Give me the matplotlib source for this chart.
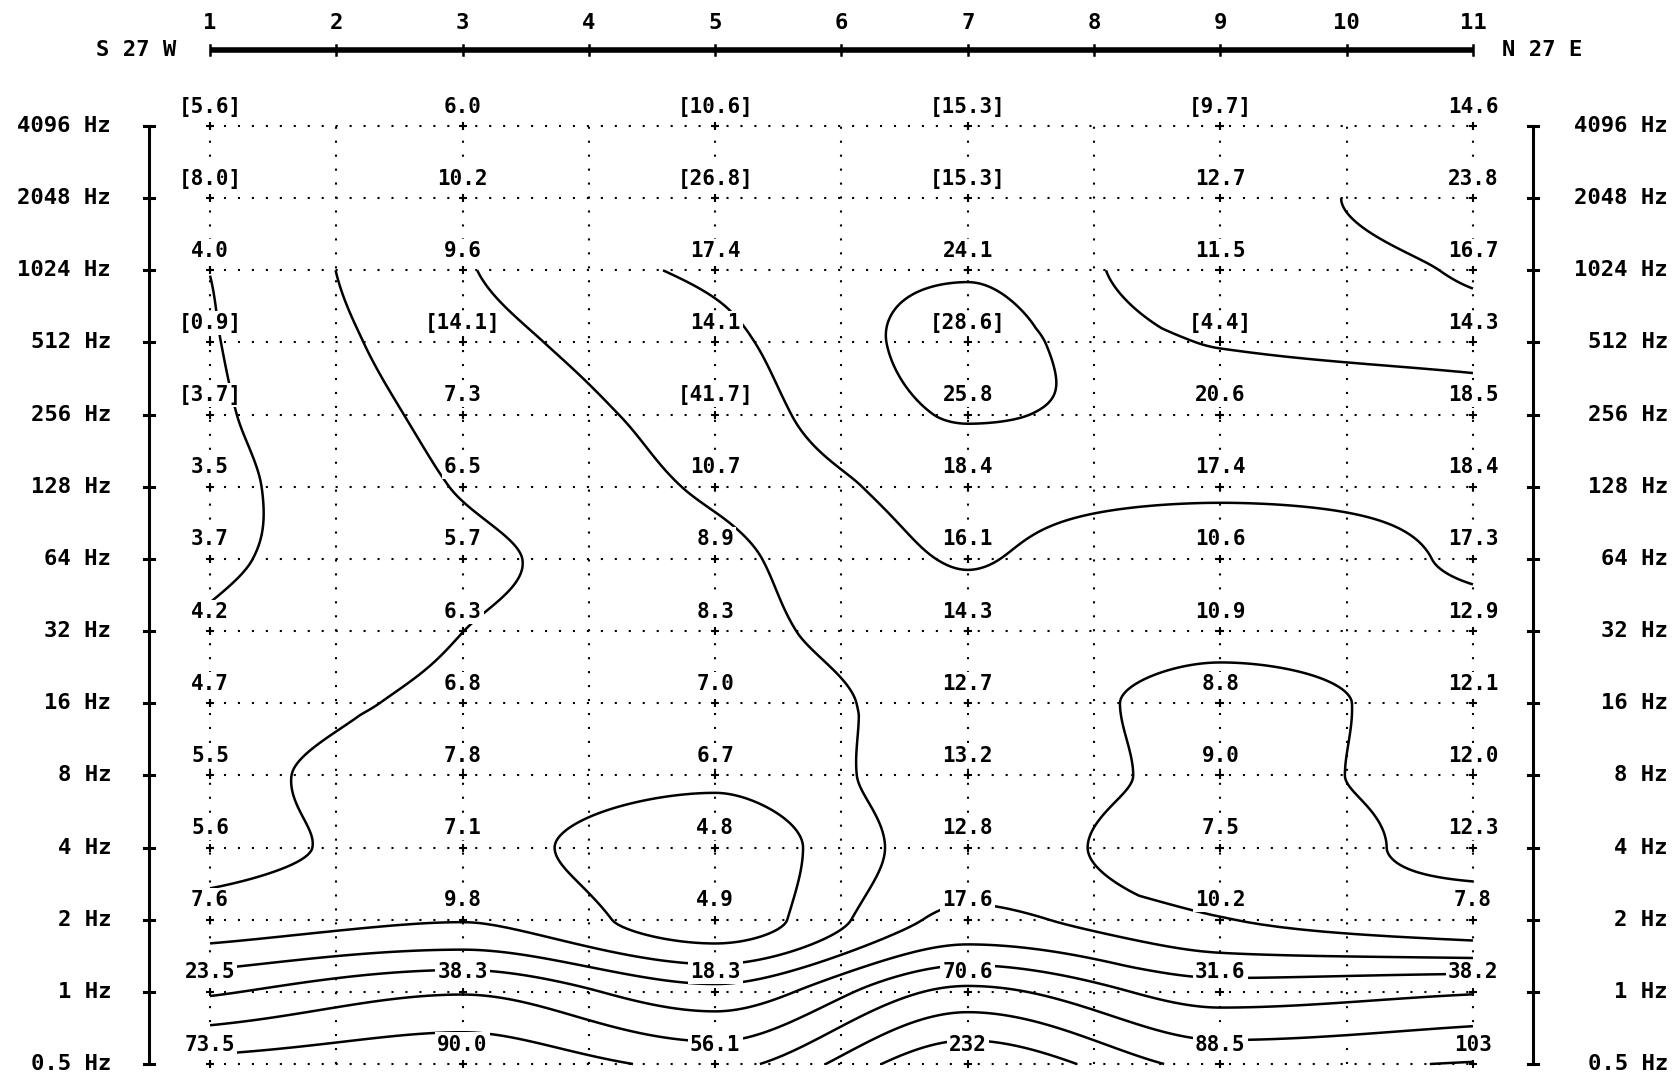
import numpy as np
import matplotlib.pyplot as plt

plt.rcParams['font.family'] = ['DejaVu Sans Mono', 'DejaVu Sans']

# stations along the profile and the sounding frequencies
stations = [1, 3, 5, 7, 9, 11]
profile_ticks = list(range(1, 12))
freqs = [4096, 2048, 1024, 512, 256, 128, 64, 32, 16, 8, 4, 2, 1, 0.5]
freq_labels = ['4096 Hz', '2048 Hz', '1024 Hz', '512 Hz', '256 Hz', '128 Hz', '64 Hz',
               '32 Hz', '16 Hz', '8 Hz', '4 Hz', '2 Hz', '1 Hz', '0.5 Hz']
left_end = 'S 27 W'
right_end = 'N 27 E'

# readings, one row per frequency, one column per station
rho = [
    [5.6, 6.0, 10.6, 15.3, 9.7, 14.6],
    [8.0, 10.2, 26.8, 15.3, 12.7, 23.8],
    [4.0, 9.6, 17.4, 24.1, 11.5, 16.7],
    [0.9, 14.1, 14.1, 28.6, 4.4, 14.3],
    [3.7, 7.3, 41.7, 25.8, 20.6, 18.5],
    [3.5, 6.5, 10.7, 18.4, 17.4, 18.4],
    [3.7, 5.7, 8.9, 16.1, 10.6, 17.3],
    [4.2, 6.3, 8.3, 14.3, 10.9, 12.9],
    [4.7, 6.8, 7.0, 12.7, 8.8, 12.1],
    [5.5, 7.8, 6.7, 13.2, 9.0, 12.0],
    [5.6, 7.1, 4.8, 12.8, 7.5, 12.3],
    [7.6, 9.8, 4.9, 17.6, 10.2, 7.8],
    [23.5, 38.3, 18.3, 70.6, 31.6, 38.2],
    [73.5, 90.0, 56.1, 232, 88.5, 103],
]
# readings printed in brackets
bracket = [
    [1, 0, 1, 1, 1, 0],
    [1, 0, 1, 1, 0, 0],
    [0, 0, 0, 0, 0, 0],
    [1, 1, 0, 1, 1, 0],
    [1, 0, 1, 0, 0, 0],
] + [[0] * 6] * 9
# bracketed readings that are left out of the contouring (row, column)
skip = [(3, 0), (3, 1), (4, 2), (3, 4)]
# contour levels
levels = [3.98, 6.31, 10.0, 15.8, 25.1, 39.8, 63.1, 100, 158]


def pchip(x, y, xn):
    # monotone cubic interpolation of y (along axis 0) at xn
    x = np.asarray(x, float)
    h = np.diff(x)
    d = np.diff(y, axis=0) / h[:, None]
    m = np.zeros_like(y)
    for k in range(1, len(x) - 1):
        d0, d1 = d[k - 1], d[k]
        w1 = 2 * h[k] + h[k - 1]
        w2 = h[k] + 2 * h[k - 1]
        same = d0 * d1 > 0
        m[k] = np.where(same, (w1 + w2) / (w1 / np.where(same, d0, 1) + w2 / np.where(same, d1, 1)), 0)
    m[0] = d[0]
    m[-1] = d[-1]
    i = np.clip(np.searchsorted(x, xn) - 1, 0, len(x) - 2)
    t = ((xn - x[i]) / h[i])[:, None]
    hh = h[i][:, None]
    return ((2 * t**3 - 3 * t**2 + 1) * y[i] + (t**3 - 2 * t**2 + t) * hh * m[i]
            + (-2 * t**3 + 3 * t**2) * y[i + 1] + (t**3 - t**2) * hh * m[i + 1])


# log values, skipped readings filled from the neighbours in the same column
Z = np.log10(np.array(rho, float))
for r, c in skip:
    Z[r, c] = 0.5 * (Z[r - 1, c] + Z[r + 1, c])

ylog = np.log2(freqs)
ycoarse = ylog[::-1]
Zc = Z[::-1]

xf = np.linspace(1, 11, 301)
yf = np.linspace(-1, 12, 391)
Zy = pchip(ycoarse, Zc, yf)            # (ny, 6)
Zf = pchip(stations, Zy.T, xf).T        # (ny, nx)
XX, YY = np.meshgrid(xf, yf)
mask = (YY > 11.001) | ((YY > 10.001) & (XX < 9))
Zm = np.ma.masked_where(mask, Zf)

fig = plt.figure(figsize=(16.73, 10.76), dpi=100)
ax = fig.add_axes([0, 0, 1, 1])
ax.set_xlim(-0.663, 12.584)
ax.set_ylim(-1.166, 13.746)
ax.axis('off')

# dotted grid
for s in profile_ticks:
    ax.plot([s, s], [-1, 12], color='black', lw=1.5, ls=(0, (1, 5.7)), zorder=1)
for y in ylog:
    ax.plot([1, 11], [y, y], color='black', lw=1.5, ls=(0, (1, 5.7)), zorder=1)
SX, SY = np.meshgrid(stations, ylog)
ax.plot(SX.ravel(), SY.ravel(), '+', color='black', ms=6, mew=1.5, zorder=2)

# contours
ax.contour(xf, yf, Zm, levels=np.log10(levels), colors='black', linewidths=1.8, zorder=3)

# value labels
for r, y in enumerate(ylog):
    for c, s in enumerate(stations):
        v = rho[r][c]
        txt = f'{v:.0f}' if v >= 100 else f'{v:.1f}'
        if bracket[r][c]:
            txt = '[' + txt + ']'
        ax.text(s, y + 0.27, txt, ha='center', va='center', fontsize=15, fontweight='bold',
                zorder=5, bbox=dict(facecolor='white', edgecolor='none', pad=1.5))

# frequency axes on both sides
for xa, xl in [(0.517, 0.216), (11.475, 12.544)]:
    ax.plot([xa, xa], [-1, 12], color='black', lw=2.2, zorder=4)
    for y, lab in zip(ylog, freq_labels):
        ax.plot([xa - 0.04, xa + 0.04], [y, y], color='black', lw=2.2, zorder=4)
        ax.text(xl, y, lab, ha='right', va='center', fontsize=16, fontweight='bold')

# station bar on top
ybar = 13.053
ax.plot([1, 11], [ybar, ybar], color='black', lw=4, solid_capstyle='butt')
for s in profile_ticks:
    ax.plot([s, s], [ybar - 0.07, ybar + 0.07], color='black', lw=1.8)
    ax.text(s, 13.43, str(s), ha='center', va='center', fontsize=16, fontweight='bold')
ax.text(0.73, ybar, left_end, ha='right', va='center', fontsize=16, fontweight='bold')
ax.text(11.23, ybar, right_end, ha='left', va='center', fontsize=16, fontweight='bold')

fig.savefig('out.png', dpi=100, facecolor='white')
